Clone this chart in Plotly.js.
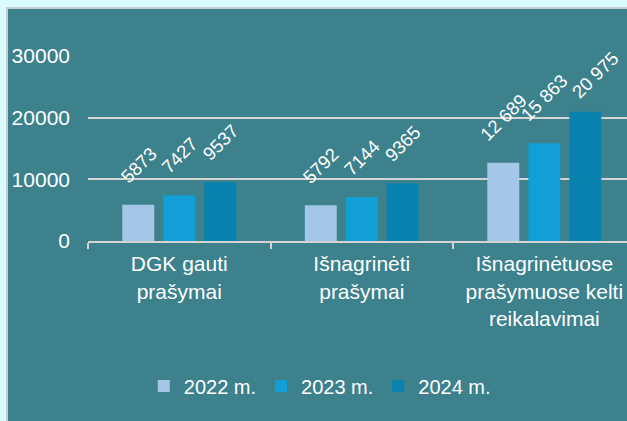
<!DOCTYPE html>
<html>
<head>
<meta charset="utf-8">
<script src="https://cdn.plot.ly/plotly-3.0.1.min.js"></script>
<style>
  html, body { margin: 0; padding: 0; background: #dafbff; overflow: hidden; width: 627px; height: 421px; }
  #wrap { position: absolute; left: 6px; top: 7px; width: 621px; height: 414px; border-left: 2px solid #c9cdcf; border-top: 2px solid #c9cdcf; background: #3c818c; }
  #chart { width: 619px; height: 412px; }
</style>
</head>
<body>
<div id="wrap"><div id="chart"></div></div>
<script>
const categories = ["DGK gauti<br>prašymai", "Išnagrinėti<br>prašymai", "Išnagrinėtuose<br>prašymuose kelti<br>reikalavimai"];
const seriesNames = ["2022 m.", "2023 m.", "2024 m."];
const values2022 = [5873, 5792, 12689];
const values2023 = [7427, 7144, 15863];
const values2024 = [9537, 9365, 20975];
const labels2022 = ["5873", "5792", "12 689"];
const labels2023 = ["7427", "7144", "15 863"];
const labels2024 = ["9537", "9365", "20 975"];
const yTicks = [0, 10000, 20000, 30000];

const colors = ["#a4c7e7", "#129fd6", "#0a82b0"];
const allValues = [values2022, values2023, values2024];
const allLabels = [labels2022, labels2023, labels2024];
const font = "Liberation Sans, Arial, sans-serif";

const H = 412, M = { l: 80, r: 0, t: 47, b: 180 };
const yMax = 30000;
const plotH = H - M.t - M.b;
const labelSize = 18.5;
const labelLift = 15;     // gap between bar top and label
const labelTopLimit = 42; // labels kept below this bound (px in chart)

const ctx = document.createElement("canvas").getContext("2d");
ctx.font = labelSize + "px " + font;

const traces = allValues.map((v, i) => ({
  type: "bar",
  name: seriesNames[i],
  x: categories,
  y: v,
  marker: { color: colors[i] },
  hoverinfo: "none"
}));

const annotations = [];
allValues.forEach((v, i) => {
  v.forEach((val, j) => {
    const txt = allLabels[i][j];
    const rotH = (ctx.measureText(txt).width + labelSize * 1.1) / Math.SQRT2;
    const barTop = M.t + (1 - val / yMax) * plotH;
    const lift = Math.min(labelLift, barTop - labelTopLimit - rotH);
    const pushed = labelLift - lift;
    annotations.push({
      x: categories[j], y: val, xref: "x", yref: "y",
      text: txt, showarrow: false,
      textangle: -45, xanchor: "center", yanchor: "bottom",
      xshift: (i - 1) * 41 + pushed * 1.2, yshift: lift,
      font: { family: font, size: labelSize, color: "#ffffff" }
    });
  });
});

const layout = {
  width: 619, height: H,
  margin: { l: M.l, r: M.r, t: M.t, b: M.b, pad: 0 },
  paper_bgcolor: "#3c818c",
  plot_bgcolor: "#3c818c",
  font: { family: font, size: 20, color: "#ffffff" },
  barmode: "group",
  bargap: 0.326,
  bargroupgap: 0.22,
  showlegend: true,
  legend: {
    orientation: "h", x: 0.43, xanchor: "center", y: -0.784, yanchor: "middle",
    font: { family: font, size: 20, color: "#ffffff" },
    bgcolor: "rgba(0,0,0,0)", traceorder: "normal", itemclick: false, itemwidth: 30
  },
  xaxis: {
    type: "category",
    range: [-0.5, 2.453],
    showline: true, linecolor: "#d4d4d4", linewidth: 2,
    ticks: "outside", tickson: "boundaries", ticklen: 6, tickcolor: "#d4d4d4", tickwidth: 2,
    ticklabelstandoff: 3,
    tickfont: { family: font, size: 21, color: "#ffffff" },
    showgrid: false, fixedrange: true
  },
  yaxis: {
    range: [0, yMax],
    tickvals: yTicks, tickformat: "d",
    showgrid: true, gridcolor: "#d4d4d4", gridwidth: 2,
    zeroline: false, showline: false, ticks: "",
    ticklabelstandoff: 17,
    tickfont: { family: font, size: 21, color: "#ffffff" },
    fixedrange: true
  },
  annotations: annotations
};

Plotly.newPlot("chart", traces, layout, { displayModeBar: false, staticPlot: true });
</script>
</body>
</html>
